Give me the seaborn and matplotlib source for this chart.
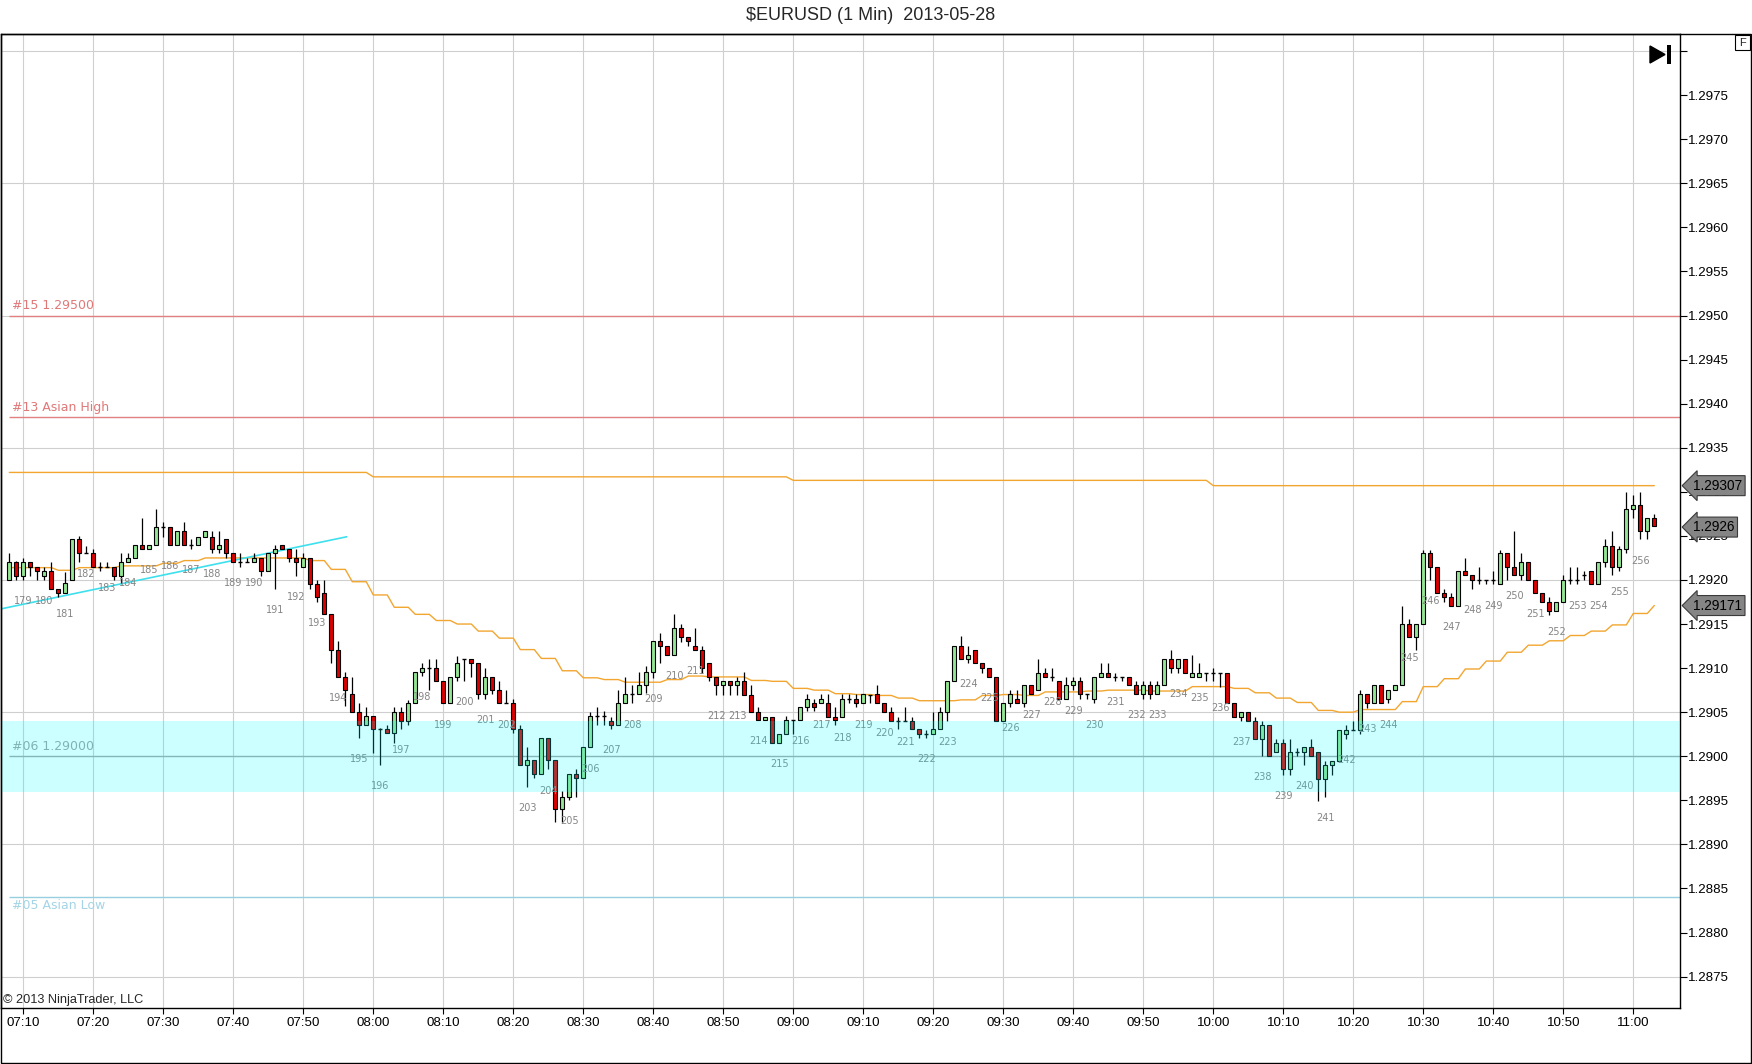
import matplotlib
matplotlib.use("Agg")
import matplotlib.pyplot as plt
from matplotlib import patches
from matplotlib.transforms import blended_transform_factory
import numpy as np
import pandas as pd
import seaborn as sns

W, H = 1752, 1064

# ---- data --------------------------------------------------------------
title = "$EURUSD (1 Min)  2013-05-28"
first_bar = "2013-05-28 07:08"
origin = "2013-05-28 07:10"

opens = [
    1.29200, 1.29220, 1.29205, 1.29220, 1.29215, 1.29205, 1.29210, 1.29190, 1.29185, 1.29200,
    1.29246, 1.29231, 1.29231, 1.29215, 1.29215, 1.29215, 1.29205, 1.29220, 1.29225, 1.29240,
    1.29235, 1.29240, 1.29260, 1.29260, 1.29240, 1.29255, 1.29240, 1.29240, 1.29249, 1.29249,
    1.29235, 1.29246, 1.29231, 1.29220, 1.29220, 1.29220, 1.29225, 1.29210, 1.29231, 1.29240,
    1.29235, 1.29225, 1.29215, 1.29225, 1.29195, 1.29185, 1.29161, 1.29121, 1.29090, 1.29071,
    1.29050, 1.29035, 1.29046, 1.29031, 1.29031, 1.29026, 1.29050, 1.29040, 1.29060, 1.29096,
    1.29100, 1.29100, 1.29085, 1.29060, 1.29090, 1.29110, 1.29110, 1.29106, 1.29071, 1.29090,
    1.29075, 1.29060, 1.29060, 1.29031, 1.28990, 1.28996, 1.28980, 1.29021, 1.28996, 1.28940,
    1.28954, 1.28980, 1.28975, 1.29010, 1.29046, 1.29046, 1.29040, 1.29035, 1.29060, 1.29071,
    1.29071, 1.29081, 1.29096, 1.29131, 1.29125, 1.29115, 1.29145, 1.29135, 1.29125, 1.29121,
    1.29106, 1.29090, 1.29081, 1.29085, 1.29081, 1.29085, 1.29070, 1.29050, 1.29041, 1.29045,
    1.29015, 1.29025, 1.29041, 1.29041, 1.29056, 1.29060, 1.29060, 1.29060, 1.29045, 1.29045,
    1.29065, 1.29065, 1.29060, 1.29070, 1.29071, 1.29060, 1.29050, 1.29040, 1.29040, 1.29040,
    1.29031, 1.29025, 1.29025, 1.29031, 1.29050, 1.29085, 1.29125, 1.29110, 1.29120, 1.29106,
    1.29100, 1.29090, 1.29040, 1.29060, 1.29065, 1.29060, 1.29081, 1.29075, 1.29095, 1.29090,
    1.29085, 1.29065, 1.29081, 1.29085, 1.29071, 1.29065, 1.29090, 1.29095, 1.29090, 1.29090,
    1.29090, 1.29081, 1.29071, 1.29081, 1.29071, 1.29081, 1.29110, 1.29100, 1.29110, 1.29090,
    1.29090, 1.29095, 1.29095, 1.29095, 1.29095, 1.29060, 1.29045, 1.29050, 1.29040, 1.29020,
    1.29035, 1.29005, 1.29015, 1.28985, 1.29005, 1.29005, 1.29010, 1.29005, 1.28974, 1.28990,
    1.28995, 1.29025, 1.29030, 1.29030, 1.29071, 1.29060, 1.29081, 1.29065, 1.29075, 1.29081,
    1.29150, 1.29135, 1.29150, 1.29231, 1.29215, 1.29185, 1.29181, 1.29171, 1.29210, 1.29206,
    1.29200, 1.29200, 1.29200, 1.29195, 1.29231, 1.29215, 1.29206, 1.29220, 1.29200, 1.29185,
    1.29175, 1.29165, 1.29175, 1.29200, 1.29200, 1.29206, 1.29210, 1.29195, 1.29220, 1.29239,
    1.29215, 1.29235, 1.29280, 1.29285, 1.29256, 1.29270,
]
highs = [
    1.29231, 1.29222, 1.29225, 1.29220, 1.29215, 1.29215, 1.29220, 1.29190, 1.29209, 1.29246,
    1.29250, 1.29239, 1.29235, 1.29220, 1.29220, 1.29215, 1.29231, 1.29231, 1.29240, 1.29270,
    1.29240, 1.29281, 1.29266, 1.29260, 1.29255, 1.29266, 1.29246, 1.29249, 1.29255, 1.29255,
    1.29255, 1.29246, 1.29231, 1.29231, 1.29225, 1.29231, 1.29225, 1.29231, 1.29240, 1.29240,
    1.29235, 1.29235, 1.29231, 1.29225, 1.29200, 1.29200, 1.29161, 1.29131, 1.29096, 1.29090,
    1.29060, 1.29056, 1.29046, 1.29032, 1.29036, 1.29056, 1.29056, 1.29064, 1.29096, 1.29106,
    1.29110, 1.29110, 1.29085, 1.29090, 1.29114, 1.29110, 1.29110, 1.29106, 1.29100, 1.29090,
    1.29085, 1.29075, 1.29065, 1.29035, 1.29010, 1.28996, 1.29021, 1.29021, 1.28996, 1.28961,
    1.28980, 1.28985, 1.29010, 1.29050, 1.29056, 1.29051, 1.29045, 1.29075, 1.29090, 1.29081,
    1.29096, 1.29102, 1.29131, 1.29140, 1.29125, 1.29161, 1.29150, 1.29135, 1.29145, 1.29125,
    1.29106, 1.29090, 1.29085, 1.29085, 1.29090, 1.29096, 1.29081, 1.29056, 1.29045, 1.29045,
    1.29025, 1.29046, 1.29041, 1.29056, 1.29071, 1.29065, 1.29071, 1.29071, 1.29056, 1.29071,
    1.29071, 1.29071, 1.29071, 1.29070, 1.29081, 1.29060, 1.29056, 1.29045, 1.29056, 1.29045,
    1.29031, 1.29030, 1.29050, 1.29056, 1.29085, 1.29125, 1.29136, 1.29125, 1.29120, 1.29106,
    1.29100, 1.29090, 1.29060, 1.29075, 1.29075, 1.29081, 1.29081, 1.29110, 1.29100, 1.29100,
    1.29085, 1.29090, 1.29090, 1.29090, 1.29071, 1.29090, 1.29106, 1.29106, 1.29095, 1.29090,
    1.29090, 1.29085, 1.29085, 1.29085, 1.29085, 1.29110, 1.29121, 1.29110, 1.29110, 1.29115,
    1.29106, 1.29095, 1.29100, 1.29095, 1.29095, 1.29060, 1.29050, 1.29050, 1.29045, 1.29040,
    1.29035, 1.29020, 1.29020, 1.29020, 1.29009, 1.29010, 1.29020, 1.29005, 1.28995, 1.28995,
    1.29030, 1.29035, 1.29040, 1.29075, 1.29071, 1.29081, 1.29081, 1.29075, 1.29081, 1.29171,
    1.29156, 1.29150, 1.29234, 1.29234, 1.29215, 1.29190, 1.29185, 1.29210, 1.29225, 1.29206,
    1.29215, 1.29200, 1.29210, 1.29234, 1.29231, 1.29256, 1.29231, 1.29220, 1.29200, 1.29185,
    1.29181, 1.29175, 1.29206, 1.29215, 1.29215, 1.29210, 1.29210, 1.29220, 1.29246, 1.29256,
    1.29239, 1.29300, 1.29296, 1.29300, 1.29270, 1.29275,
]
lows = [
    1.29200, 1.29200, 1.29200, 1.29205, 1.29200, 1.29200, 1.29190, 1.29181, 1.29185, 1.29200,
    1.29220, 1.29231, 1.29215, 1.29210, 1.29215, 1.29200, 1.29196, 1.29220, 1.29225, 1.29235,
    1.29235, 1.29240, 1.29249, 1.29240, 1.29240, 1.29240, 1.29235, 1.29240, 1.29249, 1.29231,
    1.29231, 1.29225, 1.29220, 1.29215, 1.29220, 1.29220, 1.29205, 1.29210, 1.29190, 1.29235,
    1.29220, 1.29205, 1.29215, 1.29190, 1.29175, 1.29161, 1.29106, 1.29090, 1.29057, 1.29050,
    1.29021, 1.29035, 1.29004, 1.28990, 1.29026, 1.29015, 1.29031, 1.29035, 1.29060, 1.29091,
    1.29075, 1.29085, 1.29060, 1.29060, 1.29085, 1.29085, 1.29090, 1.29065, 1.29065, 1.29071,
    1.29060, 1.29060, 1.29026, 1.28990, 1.28965, 1.28975, 1.28980, 1.28985, 1.28925, 1.28925,
    1.28950, 1.28954, 1.28975, 1.29010, 1.29036, 1.29036, 1.29031, 1.29035, 1.29060, 1.29060,
    1.29071, 1.29072, 1.29089, 1.29106, 1.29115, 1.29115, 1.29130, 1.29125, 1.29121, 1.29095,
    1.29085, 1.29070, 1.29070, 1.29070, 1.29070, 1.29070, 1.29050, 1.29041, 1.29041, 1.29015,
    1.29015, 1.29025, 1.29025, 1.29041, 1.29051, 1.29051, 1.29060, 1.29045, 1.29036, 1.29045,
    1.29060, 1.29056, 1.29060, 1.29060, 1.29060, 1.29050, 1.29040, 1.29031, 1.29040, 1.29031,
    1.29021, 1.29021, 1.29025, 1.29031, 1.29040, 1.29085, 1.29110, 1.29106, 1.29106, 1.29095,
    1.29090, 1.29040, 1.29040, 1.29056, 1.29060, 1.29056, 1.29071, 1.29075, 1.29090, 1.29085,
    1.29065, 1.29065, 1.29075, 1.29065, 1.29065, 1.29060, 1.29090, 1.29090, 1.29085, 1.29085,
    1.29081, 1.29071, 1.29065, 1.29065, 1.29071, 1.29081, 1.29095, 1.29095, 1.29095, 1.29090,
    1.29090, 1.29085, 1.29085, 1.29079, 1.29060, 1.29045, 1.29040, 1.29040, 1.29020, 1.29000,
    1.29000, 1.29005, 1.28979, 1.28979, 1.29000, 1.28990, 1.29000, 1.28949, 1.28954, 1.28979,
    1.28995, 1.29020, 1.29030, 1.29025, 1.29055, 1.29060, 1.29060, 1.29060, 1.29075, 1.29081,
    1.29135, 1.29120, 1.29150, 1.29200, 1.29185, 1.29175, 1.29171, 1.29171, 1.29206, 1.29190,
    1.29195, 1.29195, 1.29195, 1.29195, 1.29200, 1.29206, 1.29200, 1.29200, 1.29185, 1.29175,
    1.29160, 1.29165, 1.29175, 1.29195, 1.29195, 1.29200, 1.29195, 1.29195, 1.29215, 1.29206,
    1.29210, 1.29231, 1.29270, 1.29246, 1.29246, 1.29261,
]
closes = [
    1.29220, 1.29205, 1.29220, 1.29215, 1.29210, 1.29210, 1.29190, 1.29185, 1.29196, 1.29246,
    1.29231, 1.29231, 1.29215, 1.29215, 1.29215, 1.29205, 1.29220, 1.29225, 1.29240, 1.29235,
    1.29240, 1.29260, 1.29260, 1.29240, 1.29255, 1.29240, 1.29240, 1.29249, 1.29255, 1.29235,
    1.29240, 1.29231, 1.29220, 1.29220, 1.29220, 1.29225, 1.29210, 1.29231, 1.29235, 1.29235,
    1.29225, 1.29220, 1.29225, 1.29195, 1.29181, 1.29161, 1.29121, 1.29090, 1.29075, 1.29050,
    1.29035, 1.29046, 1.29031, 1.29031, 1.29026, 1.29050, 1.29040, 1.29060, 1.29096, 1.29100,
    1.29100, 1.29085, 1.29060, 1.29090, 1.29106, 1.29110, 1.29106, 1.29071, 1.29090, 1.29075,
    1.29060, 1.29060, 1.29031, 1.28990, 1.28996, 1.28980, 1.29021, 1.28996, 1.28940, 1.28954,
    1.28980, 1.28975, 1.29010, 1.29046, 1.29046, 1.29046, 1.29035, 1.29060, 1.29071, 1.29071,
    1.29081, 1.29096, 1.29131, 1.29125, 1.29115, 1.29145, 1.29135, 1.29131, 1.29121, 1.29100,
    1.29090, 1.29081, 1.29085, 1.29081, 1.29085, 1.29070, 1.29050, 1.29041, 1.29045, 1.29015,
    1.29025, 1.29041, 1.29041, 1.29056, 1.29065, 1.29056, 1.29065, 1.29045, 1.29041, 1.29065,
    1.29065, 1.29060, 1.29071, 1.29070, 1.29060, 1.29050, 1.29040, 1.29040, 1.29040, 1.29031,
    1.29025, 1.29025, 1.29031, 1.29050, 1.29085, 1.29125, 1.29110, 1.29115, 1.29106, 1.29100,
    1.29090, 1.29040, 1.29060, 1.29071, 1.29060, 1.29081, 1.29071, 1.29095, 1.29090, 1.29090,
    1.29065, 1.29081, 1.29085, 1.29071, 1.29071, 1.29090, 1.29095, 1.29090, 1.29090, 1.29090,
    1.29081, 1.29071, 1.29081, 1.29071, 1.29081, 1.29110, 1.29100, 1.29110, 1.29095, 1.29095,
    1.29095, 1.29095, 1.29095, 1.29095, 1.29060, 1.29045, 1.29050, 1.29040, 1.29020, 1.29035,
    1.29000, 1.29015, 1.28985, 1.29005, 1.29005, 1.29010, 1.29000, 1.28974, 1.28990, 1.28995,
    1.29030, 1.29030, 1.29030, 1.29071, 1.29060, 1.29081, 1.29060, 1.29075, 1.29081, 1.29150,
    1.29135, 1.29150, 1.29231, 1.29215, 1.29185, 1.29181, 1.29171, 1.29210, 1.29206, 1.29200,
    1.29200, 1.29200, 1.29200, 1.29231, 1.29215, 1.29206, 1.29220, 1.29200, 1.29185, 1.29175,
    1.29165, 1.29175, 1.29200, 1.29200, 1.29200, 1.29206, 1.29195, 1.29220, 1.29239, 1.29215,
    1.29235, 1.29280, 1.29285, 1.29256, 1.29270, 1.29261,
]

# bar counter printed under every third bar, first one at 07:10
bar_label_first = 179
bar_label_every = 3

# orange "high" line, one level per hour
upper_starts = ["07:08", "08:00", "09:00", "10:00"]
upper_levels = [1.29322, 1.29317, 1.29313, 1.29307]

# orange stepped line, one level per 3-bar block starting 07:09
lower_first = "07:09"
lower_levels = [
    1.29214, 1.29214, 1.29211, 1.29214, 1.29214, 1.29216, 1.29216, 1.29219, 1.29222, 1.29225,
    1.29225, 1.29225, 1.29225, 1.29225, 1.29222, 1.29212, 1.29198, 1.29183, 1.29169, 1.29161,
    1.29154, 1.29150, 1.29142, 1.29134, 1.29121, 1.29111, 1.29097, 1.29089, 1.29087, 1.29084,
    1.29084, 1.29087, 1.29091, 1.29090, 1.29090, 1.29086, 1.29085, 1.29077, 1.29075, 1.29071,
    1.29070, 1.29069, 1.29066, 1.29063, 1.29063, 1.29064, 1.29069, 1.29070, 1.29069, 1.29073,
    1.29073, 1.29074, 1.29075, 1.29075, 1.29074, 1.29074, 1.29079, 1.29079, 1.29077, 1.29072,
    1.29066, 1.29061, 1.29052, 1.29050, 1.29053, 1.29053, 1.29062, 1.29079, 1.29088, 1.29099,
    1.29108, 1.29118, 1.29126, 1.29131, 1.29137, 1.29142, 1.29149, 1.29162, 1.29171,
]

# cyan trend line (minutes from 07:10, price)
trend_minutes = [-3.3, 46.2]
trend_prices = [1.29167, 1.29249]

level_prices = [1.29500, 1.29385, 1.29000, 1.28840]
level_names = ["#15 1.29500", "#13 Asian High", "#06 1.29000", "#05 Asian Low"]
level_colors = ["#e08080", "#e08080", "#a6a6a6", "#98cfe0"]
level_text_colors = ["#e07878", "#e07878", "#a0a0a0", "#a4d4e6"]
level_text_below = [False, False, False, True]
zone_low, zone_high = 1.28960, 1.29040

xtick_labels = ["07:10", "07:20", "07:30", "07:40", "07:50", "08:00", "08:10", "08:20",
                "08:30", "08:40", "08:50", "09:00", "09:10", "09:20", "09:30", "09:40",
                "09:50", "10:00", "10:10", "10:20", "10:30", "10:40", "10:50", "11:00"]
ytick_values = [1.2875, 1.2880, 1.2885, 1.2890, 1.2895, 1.2900, 1.2905, 1.2910, 1.2915,
                1.2920, 1.2925, 1.2930, 1.2935, 1.2940, 1.2945, 1.2950, 1.2955, 1.2960,
                1.2965, 1.2970, 1.2975, 1.2980]
hgrid_values = [1.2875, 1.2890, 1.2905, 1.2920, 1.2935, 1.2950, 1.2965, 1.2980]

marker_prices = [1.29307, 1.2926, 1.29171]
marker_labels = ["1.29307", "1.2926", "1.29171"]


def minutes(hhmm):
    h, m = hhmm.split(":")
    return int(h) * 60 + int(m) - (7 * 60 + 10)


def px_x(x):
    return x / W


def px_y(y):
    return 1 - y / H


def main():
    sns.set_theme(style="white")
    plt.rcParams["font.family"] = ["Liberation Sans", "DejaVu Sans"]

    assert len(opens) == len(highs) == len(lows) == len(closes)
    times = pd.date_range(first_bar, periods=len(opens), freq="min")
    df = pd.DataFrame({"open": opens, "high": highs, "low": lows, "close": closes})
    df["x"] = (times - pd.Timestamp(origin)).total_seconds() / 60.0

    fig = plt.figure(figsize=(W / 100, H / 100), dpi=100)
    ax = fig.add_axes([px_x(1), 1 - 1008 / H, 1679 / W, 974 / H])
    ax.set_facecolor("white")

    x_left = (1 - 23.3) / 7.0
    x_right = (1680 - 23.3) / 7.0
    ax.set_xlim(x_left, x_right)
    ax.set_ylim(1.287144, 1.298194)

    # grid
    xt = [minutes(t) for t in xtick_labels]
    for v in xt:
        ax.axvline(v, color="#cfcfcf", lw=0.8, zorder=0.5)
    for v in hgrid_values:
        ax.axhline(v, color="#cfcfcf", lw=0.8, zorder=0.5)

    # zone and level lines
    x0 = df["x"].iloc[0]
    for p, name, c, tc, below in zip(level_prices, level_names, level_colors,
                                     level_text_colors, level_text_below):
        ax.hlines(p, x0, x_right, color=c, lw=1.0, zorder=1)
        off = -0.00009 if below else 0.00011
        ax.text(x0 + 0.45, p + off, name, color=tc, fontsize=9.0, ha="left",
                va="center", family="DejaVu Sans", zorder=1)

    # orange lines
    ux, uy = [], []
    starts = [minutes(s) for s in upper_starts] + [df["x"].iloc[-1] + 1]
    for i, lvl in enumerate(upper_levels):
        ux += [starts[i], starts[i + 1] - 1]
        uy += [lvl, lvl]
    sns.lineplot(x=ux, y=uy, ax=ax, color="#f2a630", lw=1.0, sort=False,
                 estimator=None, zorder=2)

    lx, ly = [x0], [lower_levels[0]]
    s0 = minutes(lower_first)
    x_last = df["x"].iloc[-1]
    for i, lvl in enumerate(lower_levels):
        s = s0 + bar_label_every * i
        for xx in (s, s + 2):
            if xx <= x_last:
                lx.append(xx)
                ly.append(lvl)
    sns.lineplot(x=lx, y=ly, ax=ax, color="#f2a630", lw=1.0, sort=False,
                 estimator=None, zorder=2)

    # trend line
    sns.lineplot(x=trend_minutes, y=trend_prices, ax=ax, color="#3ee0ee", lw=1.2,
                 sort=False, estimator=None, zorder=2.2)

    # candles
    up = df[df["close"] > df["open"]]
    dn = df[df["close"] < df["open"]]
    fl = df[df["close"] == df["open"]]
    bw = 0.62
    ax.vlines(df["x"], df["low"], df["high"], color="black", lw=0.9, zorder=3)
    ax.bar(up["x"], up["close"] - up["open"], bottom=up["open"], width=bw,
           color="#93e693", edgecolor="black", lw=0.8, zorder=4)
    ax.bar(dn["x"], dn["open"] - dn["close"], bottom=dn["close"], width=bw,
           color="#dd0000", edgecolor="black", lw=0.8, zorder=4)
    ax.hlines(fl["close"], fl["x"] - bw / 2, fl["x"] + bw / 2, color="black",
              lw=1.0, zorder=4)

    # bar counter labels
    first_idx = int(round(-df["x"].iloc[0]))
    for k, idx in enumerate(range(first_idx, len(df), bar_label_every)):
        ax.text(df["x"].iloc[idx], df["low"].iloc[idx] - 0.00024,
                str(bar_label_first + k), ha="center", va="center",
                fontsize=7.0, color="#858585", family="DejaVu Sans", zorder=5)

    ax.axhspan(zone_low, zone_high, color="#00ffff", alpha=0.2, lw=0, zorder=6)

    # axes
    ax.set_xticks(xt)
    ax.set_xticklabels(xtick_labels)
    ax.yaxis.tick_right()
    ax.set_yticks(ytick_values)
    ax.set_yticklabels(["%.4f" % v if v < 1.2979 else "" for v in ytick_values])
    ax.tick_params(axis="x", direction="out", length=4, width=0.8, pad=2.5,
                   labelsize=9.6, colors="black", bottom=True)
    ax.tick_params(axis="y", direction="out", length=5, width=0.8, pad=1,
                   labelsize=9.6, colors="black", right=True, left=False)
    for sp in ax.spines.values():
        sp.set_color("black")
        sp.set_linewidth(1.0)
        sp.set_visible(True)
    ax.grid(False)
    ax.set_xlabel("")
    ax.set_ylabel("")

    # price markers on the right axis
    trans = blended_transform_factory(ax.transAxes, ax.transData)
    for p, lab in zip(marker_prices, marker_labels):
        ax.text(1.0 + 13 / 1679, p, lab, transform=trans, ha="left", va="center",
                fontsize=9.8, color="black", clip_on=False, zorder=10,
                bbox=dict(boxstyle="larrow,pad=0.22", fc="#858585", ec="#3a3a3a",
                          lw=0.8))

    # frame, title and decorations
    fig.add_artist(patches.Rectangle((px_x(0.6), px_y(1063)), px_x(1750.2), 1029 / H,
                                     fill=False, ec="black", lw=1.0,
                                     transform=fig.transFigure))
    fig.text(px_x(871), px_y(16), title, ha="center", va="center", fontsize=13)
    fig.text(px_x(3), px_y(1000), "\u00a9 2013 NinjaTrader, LLC", ha="left",
             va="center", fontsize=9.2)
    fig.add_artist(patches.Polygon([(px_x(1650), px_y(46)), (px_x(1650), px_y(63)),
                                    (px_x(1665), px_y(54.5))], closed=True,
                                   fc="black", ec="black", transform=fig.transFigure))
    fig.add_artist(patches.Rectangle((px_x(1667), px_y(64)), 4 / W, 19 / H,
                                     fc="black", ec="none", transform=fig.transFigure))
    fig.add_artist(patches.Rectangle((px_x(1735), px_y(50)), 15 / W, 15 / H,
                                     fill=False, ec="black", lw=0.8,
                                     transform=fig.transFigure))
    fig.text(px_x(1742.5), px_y(42.5), "F", ha="center", va="center", fontsize=8)

    fig.savefig("out.png", dpi=100)
    plt.close(fig)


if __name__ == "__main__":
    main()
